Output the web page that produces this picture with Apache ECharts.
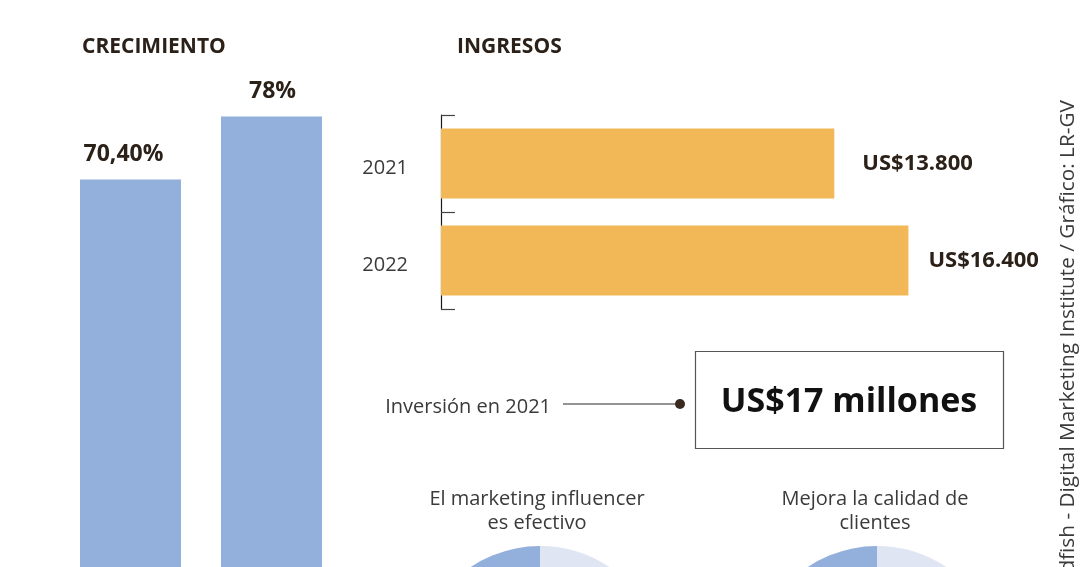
<!DOCTYPE html>
<html><head><meta charset="utf-8">
<script src="https://cdn.jsdelivr.net/npm/echarts@6.0.0/dist/echarts.min.js"></script>
<style>html,body{margin:0;padding:0;background:#fff}#c{width:1080px;height:567px}</style>
</head><body><div id="c"></div>
<script>
// ---- data ----
const growthCategories = ['2021', '2022'];
const growthValues = [70.4, 78];
const growthLabels = ['70,40%', '78%'];

const revenueYears = ['2021', '2022'];
const revenueValues = [13800, 16400];
const revenueLabels = ['US$13.800', 'US$16.400'];

const investmentLabel = 'Inversión en 2021';
const investmentValue = 'US$17 millones';

const pieTitles = ['El marketing influencer\nes efectivo', 'Mejora la calidad de\nclientes'];
const pieYes = [90, 67];
const pieRest = [10, 33];

const sourceText = 'Fuente: Influencer Marketing Hub, Goldfish - Digital Marketing Institute / Gráfico: LR-GV';

// ---- styles ----
const FONT = "'Open Sans', 'Noto Sans', sans-serif";
const DARK = '#2b2118';
const TEXT = '#3a3a3a';
const BLUE = '#93afdc';
const BLUE_LIGHT = '#dfe5f3';
const ORANGE = '#f2b757';

const chart = echarts.init(document.getElementById('c'));
const revenueDistances = [28, 20];
const growthLabelOffsets = [[-7, 0], [1, 0]];
const pieCentersX = [540, 877];

const pieSeries = pieTitles.map((t, i) => ({
  type: 'pie',
  center: [pieCentersX[i], 671],
  radius: 125,
  startAngle: 90,
  clockwise: false,
  silent: true,
  label: { show: false },
  labelLine: { show: false },
  data: [
    { name: 'Sí', value: pieYes[i], itemStyle: { color: BLUE } },
    { name: 'Otro', value: pieRest[i], itemStyle: { color: BLUE_LIGHT } }
  ]
}));

chart.setOption({
  animation: false,
  backgroundColor: '#fff',
  textStyle: { fontFamily: FONT },
  grid: [
    { left: 60, width: 282, top: 100, height: 663, outerBoundsMode: 'none', containLabel: false },
    { left: 441, width: 570, top: 115, height: 194, outerBoundsMode: 'none' }
  ],
  xAxis: [
    { gridIndex: 0, type: 'category', data: growthCategories, show: false },
    { gridIndex: 1, type: 'value', min: 0, max: 20000, show: false }
  ],
  yAxis: [
    { gridIndex: 0, type: 'value', min: 0, max: 80, show: false },
    {
      gridIndex: 1, type: 'category', data: revenueYears, inverse: true,
      axisLine: { show: true, lineStyle: { color: '#1a1a1a', width: 1.2 } },
      axisTick: { show: true, inside: true, length: 14, lineStyle: { color: '#444', width: 1.2 } },
      axisLabel: { margin: 33, fontSize: 20, color: TEXT, fontFamily: FONT, verticalAlign: 'top', lineHeight: 10 },
      splitLine: { show: false }
    }
  ],
  series: [
    {
      type: 'bar', xAxisIndex: 0, yAxisIndex: 0, barWidth: 101, silent: true,
      itemStyle: { color: BLUE },
      data: growthValues.map((v, i) => ({
        value: v,
        label: {
          show: true, position: 'top', distance: 14, offset: growthLabelOffsets[i],
          formatter: growthLabels[i], fontSize: 23, fontWeight: 'bold', color: DARK, fontFamily: FONT
        }
      }))
    },
    {
      type: 'bar', xAxisIndex: 1, yAxisIndex: 1, barWidth: 70, silent: true,
      itemStyle: { color: ORANGE },
      data: revenueValues.map((v, i) => ({
        value: v,
        label: {
          show: true, position: 'right', distance: revenueDistances[i],
          formatter: revenueLabels[i], fontSize: 22, fontWeight: 'bold', color: DARK, fontFamily: FONT
        }
      }))
    },
    ...pieSeries
  ],
  graphic: [
    { type: 'text', x: 82, y: 47, style: { text: 'CRECIMIENTO', font: "bold 21px " + FONT, fill: DARK, verticalAlign: 'middle' } },
    { type: 'text', x: 457, y: 47, style: { text: 'INGRESOS', font: "bold 21px " + FONT, fill: DARK, verticalAlign: 'middle' } },
    { type: 'text', x: 551, y: 407, style: { text: investmentLabel, font: "20px " + FONT, fill: TEXT, align: 'right', verticalAlign: 'middle' } },
    { type: 'line', shape: { x1: 563, y1: 404, x2: 680, y2: 404 }, style: { stroke: '#2b2b2b', lineWidth: 1.2 } },
    { type: 'circle', shape: { cx: 680, cy: 404, r: 5 }, style: { fill: '#3a2a1e' } },
    { type: 'rect', shape: { x: 695.5, y: 351.5, width: 308, height: 97 }, style: { fill: 'none', stroke: '#555', lineWidth: 1.2 } },
    { type: 'text', x: 849, y: 402, style: { text: investmentValue, font: "bold 34px " + FONT, fill: '#111', align: 'center', verticalAlign: 'middle' } },
    { type: 'text', x: 537, y: 511, style: { text: pieTitles[0], font: "20px " + FONT, lineHeight: 24, fill: TEXT, align: 'center', verticalAlign: 'middle' } },
    { type: 'text', x: 875, y: 511, style: { text: pieTitles[1], font: "20px " + FONT, lineHeight: 24, fill: TEXT, align: 'center', verticalAlign: 'middle' } },
    { type: 'text', x: 1068, y: 100, rotation: Math.PI / 2, style: { text: sourceText, font: "20.8px " + FONT, fill: TEXT, align: 'right', verticalAlign: 'middle' } }
  ]
});
</script>
</body></html>
